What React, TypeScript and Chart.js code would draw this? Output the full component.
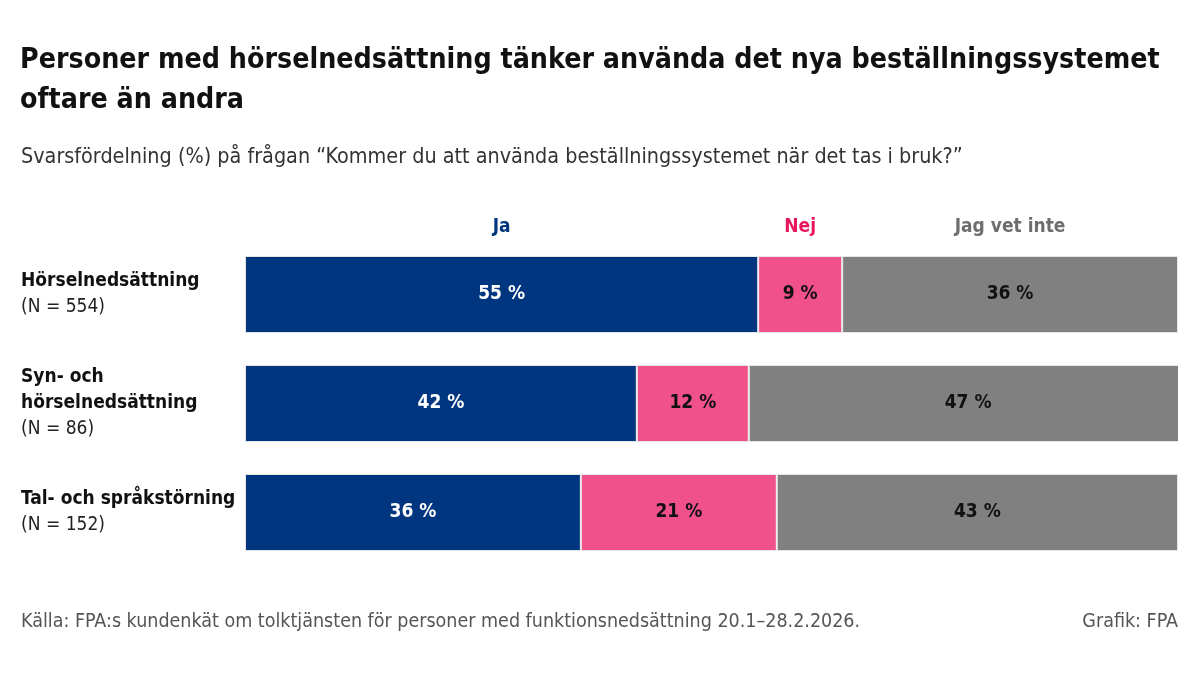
import React, { useEffect, useRef } from "react";
import { Chart, registerables } from "chart.js";

Chart.register(...registerables);

const title = [
  "Personer med hörselnedsättning tänker använda det nya beställningssystemet",
  "oftare än andra",
];
const subtitle = "Svarsfördelning (%) på frågan “Kommer du att använda beställningssystemet när det tas i bruk?”";
const source = "Källa: FPA:s kundenkät om tolktjänsten för personer med funktionsnedsättning 20.1–28.2.2026.";
const credit = "Grafik: FPA";

const categories = [["Hörselnedsättning"], ["Syn- och", "hörselnedsättning"], ["Tal- och språkstörning"]];
const nValues = [554, 86, 152];

const seriesNames = ["Ja", "Nej", "Jag vet inte"];
const jaValues = [55, 42, 36];
const nejValues = [9, 12, 21];
const vetInteValues = [36, 47, 43];

const barColors = ["#00367f", "#f0518a", "#808080"];
const headerColors = ["#00367f", "#e8175d", "#6e6e6e"];
const labelColors = ["#ffffff", "#111111", "#111111"];

const FONT = "'Liberation Sans Narrow', 'DejaVu Sans Condensed', 'Roboto', sans-serif";

export default function App() {
  const ref = useRef<HTMLCanvasElement>(null);
  useEffect(() => {
    document.body.style.margin = "0";
    const canvas = ref.current!;
    const seriesValues = [jaValues, nejValues, vetInteValues];

    const textPlugin = {
      id: "texts",
      afterDraw(chart: any) {
        const ctx = chart.ctx as CanvasRenderingContext2D;
        const xs = chart.scales.x;
        const ys = chart.scales.y;
        ctx.save();
        // title
        ctx.fillStyle = "#111111";
        ctx.textBaseline = "alphabetic";
        ctx.textAlign = "left";
        ctx.font = `bold 28.3px ${FONT}`;
        title.forEach((t, i) => ctx.fillText(t, 20, 68 + i * 40));
        ctx.font = `21.4px ${FONT}`;
        ctx.fillStyle = "#333333";
        ctx.fillText(subtitle, 21, 163);
        // footer
        ctx.font = `19.5px ${FONT}`;
        ctx.fillStyle = "#555555";
        ctx.fillText(source, 21, 627);
        ctx.textAlign = "right";
        ctx.fillText(credit, 1178, 627);

        // headers above first bar
        ctx.textAlign = "center";
        ctx.textBaseline = "middle";
        ctx.font = `bold 19px ${FONT}`;
        let cum = 0;
        seriesNames.forEach((name, s) => {
          const v = seriesValues[s][0];
          const cx = (xs.getPixelForValue(cum) + xs.getPixelForValue(cum + v)) / 2;
          ctx.fillStyle = headerColors[s];
          ctx.fillText(name, cx, 227);
          cum += v;
        });

        // category labels
        ctx.textAlign = "left";
        categories.forEach((lines, i) => {
          const all = [...lines, `(N = ${nValues[i]})`];
          const cy = ys.getPixelForValue(i);
          const lh = 26;
          const start = cy - ((all.length - 1) * lh) / 2;
          all.forEach((ln, j) => {
            const isN = j === all.length - 1;
            ctx.font = isN ? `19px ${FONT}` : `bold 19px ${FONT}`;
            ctx.fillStyle = isN ? "#222222" : "#111111";
            ctx.fillText(ln, 21, start + j * lh);
          });
        });

        // data labels
        ctx.textAlign = "center";
        ctx.font = `bold 19px ${FONT}`;
        chart.data.datasets.forEach((ds: any, s: number) => {
          const meta = chart.getDatasetMeta(s);
          meta.data.forEach((bar: any, i: number) => {
            const v = ds.data[i];
            const { x, base, y } = bar.getProps(["x", "base", "y"], true);
            ctx.fillStyle = labelColors[s];
            ctx.fillText(`${v} %`, (x + base) / 2, y);
          });
        });
        ctx.restore();
      },
    };

    const chart = new Chart(canvas, {
      type: "bar",
      data: {
        labels: categories.map((c) => c.join(" ")),
        datasets: seriesNames.map((name, s) => ({
          label: name,
          data: seriesValues[s],
          backgroundColor: barColors[s],
          borderColor: "#e6e6e6",
          borderWidth: 1,
          borderSkipped: false,
          barPercentage: 1,
          categoryPercentage: 0.706,
        })),
      },
      options: {
        indexAxis: "y",
        responsive: false,
        animation: false,
        layout: { padding: { left: 245, right: 22, top: 240, bottom: 108 } },
        plugins: { legend: { display: false }, tooltip: { enabled: false }, title: { display: false } },
        scales: {
          x: { stacked: true, min: 0, max: 100, display: false },
          y: { stacked: true, display: false },
        },
      },
      plugins: [textPlugin],
    });
    return () => chart.destroy();
  }, []);
  return (
    <div style={{ width: 1200, height: 675, background: "#fff" }}>
      <canvas ref={ref} width={1200} height={675} style={{ display: "block" }} />
    </div>
  );
}
